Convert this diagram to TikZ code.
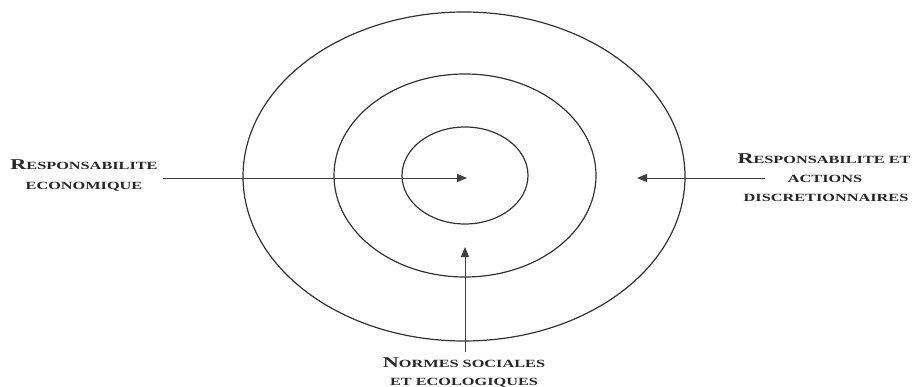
\documentclass[tikz,border=0pt]{standalone}
\usepackage{fontspec}
\setmainfont{Liberation Serif}
\usetikzlibrary{arrows.meta,shapes.geometric}
\newcommand{\scw}[2]{\scalebox{1.48}[1]{{\fontsize{15}{16}\selectfont #1}{\fontsize{11}{12}\selectfont #2}}}
\newcommand{\scs}[1]{\scalebox{1.48}[1]{\fontsize{11}{12}\selectfont #1}}
\begin{document}
\begin{tikzpicture}[x=1pt,y=-1pt,
  ring/.style={ellipse,draw=black!80,line width=1.2pt,inner sep=0pt},
  arr/.style={draw=black!65,line width=0.9pt,-{Triangle[length=10pt,width=8pt]},black!75},
  lab/.style={font=\bfseries,text=black!85,inner sep=0pt,anchor=base}]
\useasboundingbox (0,0) rectangle (912,387);
\node[ring,minimum width=442pt,minimum height=329pt] (outer) at (464,176.5) {};
\node[ring,minimum width=262pt,minimum height=203pt] (middle) at (465,175.5) {};
\node[ring,minimum width=126pt,minimum height=97pt] (inner) at (465,175.5) {};
% labels
\node[lab] (l1) at (84,170) {\scw{R}{ESPONSABILITE}};
\node[lab] (l2) at (84,190) {\scs{ECONOMIQUE}};
\node[lab] (r1) at (824,164) {\scw{R}{ESPONSABILITE ET}};
\node[lab] (r2) at (825,183) {\scs{ACTIONS}};
\node[lab] (r3) at (826,202) {\scs{DISCRETIONNAIRES}};
\node[lab] (b1) at (464,367) {\scw{N}{ORMES SOCIALES}};
\node[lab] (b2) at (464,385) {\scs{ET ECOLOGIQUES}};
% arrows
\coordinate (ls) at (163,178);
\coordinate (lt) at (467,178);
\coordinate (rs) at (765,178);
\coordinate (rt) at (637,178);
\coordinate (bs) at (465,352);
\coordinate (bt) at (465,247);
\draw[arr] (ls) -- (lt);
\draw[arr] (rs) -- (rt);
\draw[arr] (bs) -- (bt);
\end{tikzpicture}
\end{document}
